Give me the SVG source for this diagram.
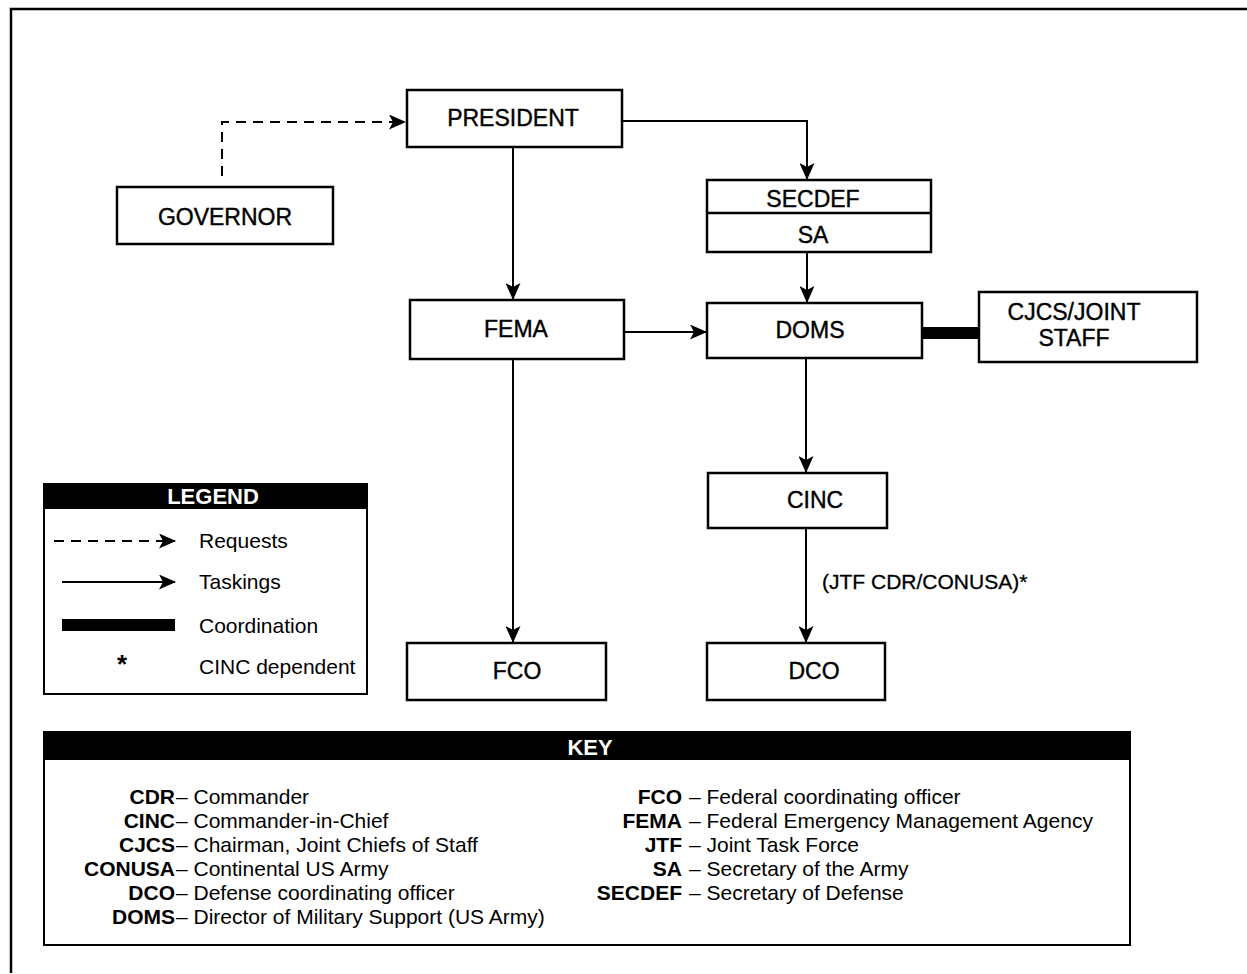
<svg xmlns="http://www.w3.org/2000/svg" width="1247" height="974" viewBox="0 0 1247 974">
<style>
.box{fill:#fff;stroke:#000;stroke-width:2.5}
.lbl{font-family:"Liberation Sans",Arial,sans-serif;font-size:23px;fill:#000;stroke:#000;stroke-width:0.4;text-anchor:middle}
.con{fill:none;stroke:#000;stroke-width:2}
.dash{fill:none;stroke:#000;stroke-width:2;stroke-dasharray:10,7}
.coord{fill:none;stroke:#000;stroke-width:12}
.txt{font-family:"Liberation Sans",Arial,sans-serif;font-size:21px;fill:#000}
.term{font-family:"Liberation Sans",Arial,sans-serif;font-size:21px;font-weight:bold;fill:#000;text-anchor:end}
.hdr{font-family:"Liberation Sans",Arial,sans-serif;font-size:22px;font-weight:bold;fill:#fff;text-anchor:middle}
</style>
<defs>
<marker id="arr" markerUnits="userSpaceOnUse" markerWidth="17" markerHeight="15" refX="16" refY="7.5" orient="auto">
<path d="M0,0 L17,7.5 L0,15 L4,7.5 z" fill="#000"/>
</marker>
</defs>
<rect width="1247" height="974" fill="#fff"/>
<path d="M11,973 L11,9 L1247,9" fill="none" stroke="#000" stroke-width="2.5"/>

<g id="connectors">
<path class="dash" d="M222,176 L222,122 L405,122" marker-end="url(#arr)"/>
<path class="con" d="M622,121 L807,121 L807,179" marker-end="url(#arr)"/>
<path class="con" d="M513,147 L513,299" marker-end="url(#arr)"/>
<path class="con" d="M807,252 L807,302" marker-end="url(#arr)"/>
<path class="con" d="M624,332 L706,332" marker-end="url(#arr)"/>
<path class="coord" d="M922,333 L979,333"/>
<path class="con" d="M806,358 L806,472" marker-end="url(#arr)"/>
<path class="con" d="M513,359 L513,642" marker-end="url(#arr)"/>
<path class="con" d="M806,528 L806,642" marker-end="url(#arr)"/>
<text class="txt" x="822" y="589" font-size="19" stroke="#000" stroke-width="0.3">(JTF CDR/CONUSA)*</text>
</g>

<g id="governor"><rect class="box" x="117" y="187" width="216" height="57"/><text class="lbl" x="225" y="225">GOVERNOR</text></g>
<g id="president"><rect class="box" x="407" y="90" width="215" height="57"/><text class="lbl" x="513" y="126">PRESIDENT</text></g>
<g id="secdef-sa"><rect class="box" x="707" y="180" width="224" height="72"/><line x1="707" y1="213" x2="931" y2="213" stroke="#000" stroke-width="2.5"/><text class="lbl" x="813" y="207">SECDEF</text><text class="lbl" x="813" y="243">SA</text></g>
<g id="fema"><rect class="box" x="410" y="300" width="214" height="59"/><text class="lbl" x="516" y="337">FEMA</text></g>
<g id="doms"><rect class="box" x="707" y="303" width="215" height="55"/><text class="lbl" x="810" y="338">DOMS</text></g>
<g id="cjcs"><rect class="box" x="979" y="292" width="218" height="70"/><text class="lbl" x="1074" y="320">CJCS/JOINT</text><text class="lbl" x="1074" y="346">STAFF</text></g>
<g id="cinc"><rect class="box" x="708" y="473" width="179" height="55"/><text class="lbl" x="815" y="508">CINC</text></g>
<g id="fco"><rect class="box" x="407" y="643" width="199" height="57"/><text class="lbl" x="517" y="679">FCO</text></g>
<g id="dco"><rect class="box" x="707" y="643" width="178" height="57"/><text class="lbl" x="814" y="679">DCO</text></g>

<g id="legend">
<rect x="44" y="484" width="323" height="210" fill="#fff" stroke="#000" stroke-width="2"/>
<rect x="44" y="484" width="323" height="25" fill="#000"/>
<text class="hdr" x="213" y="504" font-size="21">LEGEND</text>
<path class="dash" d="M54,541 L175,541" stroke-dasharray="16,8" marker-end="url(#arr)"/>
<path class="con" d="M62,582 L175,582" marker-end="url(#arr)"/>
<path class="coord" d="M62,625 L175,625" stroke-width="10"/>
<text x="122" y="673" font-family="Liberation Sans,Arial,sans-serif" font-size="26" font-weight="bold" text-anchor="middle">*</text>
<text class="txt" x="199" y="548">Requests</text>
<text class="txt" x="199" y="589">Taskings</text>
<text class="txt" x="199" y="633">Coordination</text>
<text class="txt" x="199" y="674">CINC dependent</text>
</g>

<g id="key">
<rect x="44" y="732" width="1086" height="213" fill="#fff" stroke="#000" stroke-width="2"/>
<rect x="44" y="732" width="1086" height="28" fill="#000"/>
<text class="hdr" x="590" y="755">KEY</text>
<text class="term" x="175" y="804">CDR</text><text class="txt" x="176" y="804">– Commander</text>
<text class="term" x="175" y="828">CINC</text><text class="txt" x="176" y="828">– Commander-in-Chief</text>
<text class="term" x="175" y="852">CJCS</text><text class="txt" x="176" y="852">– Chairman, Joint Chiefs of Staff</text>
<text class="term" x="175" y="876">CONUSA</text><text class="txt" x="176" y="876">– Continental US Army</text>
<text class="term" x="175" y="900">DCO</text><text class="txt" x="176" y="900">– Defense coordinating officer</text>
<text class="term" x="175" y="924">DOMS</text><text class="txt" x="176" y="924">– Director of Military Support (US Army)</text>
<text class="term" x="682" y="804">FCO</text><text class="txt" x="689" y="804">– Federal coordinating officer</text>
<text class="term" x="682" y="828">FEMA</text><text class="txt" x="689" y="828">– Federal Emergency Management Agency</text>
<text class="term" x="682" y="852">JTF</text><text class="txt" x="689" y="852">– Joint Task Force</text>
<text class="term" x="682" y="876">SA</text><text class="txt" x="689" y="876">– Secretary of the Army</text>
<text class="term" x="682" y="900">SECDEF</text><text class="txt" x="689" y="900">– Secretary of Defense</text>
</g>
</svg>
